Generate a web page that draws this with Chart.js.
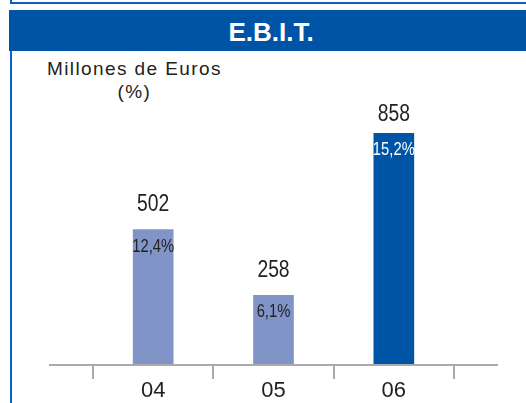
<!DOCTYPE html>
<html>
<head>
<meta charset="utf-8">
<script src="https://cdn.jsdelivr.net/npm/chart.js@4"></script>
<style>
  html, body { margin:0; padding:0; background:#fff; }
  body { width:526px; height:403px; position:relative; overflow:hidden; font-family:"Liberation Sans", Arial, sans-serif; }
  #topbox { position:absolute; left:10px; top:-10px; width:520px; height:10px; border:2px solid #0a5fc0; }
  #band { position:absolute; left:9px; top:10px; width:517px; height:41px; background:#0054a5; color:#fff;
          font-weight:bold; font-size:26px; line-height:41px; text-align:center; box-sizing:border-box; padding-left:7px; padding-top:2px; }
  #leftline { position:absolute; left:10px; top:51px; width:2px; height:352px; background:#0a63cc; }
  #unit { position:absolute; left:47px; top:57px; font-size:19px; line-height:23px; color:#222; text-align:center; letter-spacing:1.4px; }
  #wrap { position:absolute; left:0; top:0; width:526px; height:403px; }
</style>
</head>
<body>
<div id="topbox"></div>
<div id="band">E.B.I.T.</div>
<div id="leftline"></div>
<div id="unit">Millones de Euros<br>(%)</div>
<div id="wrap"><canvas id="c"></canvas></div>
<script>
const categories = ['04', '05', '06'];
const ebit = [502, 258, 858];
const marginPct = [12.4, 6.1, 15.2];
const barColors = ['#8194c8', '#8194c8', '#0054a5'];
const pctColors = ['#222222', '#222222', '#ffffff'];

const FONT = '"Liberation Sans", Arial, sans-serif';

function condensedText(ctx, text, x, y, size, squeeze) {
  ctx.save();
  ctx.font = size + 'px ' + FONT;
  ctx.translate(x, y);
  ctx.scale(squeeze, 1);
  ctx.fillText(text, 0, 0);
  ctx.restore();
}

const labelPlugin = {
  id: 'labels',
  afterDatasetsDraw(chart) {
    const ctx = chart.ctx;
    const a = chart.chartArea;
    const meta = chart.getDatasetMeta(0);
    ctx.save();
    ctx.textAlign = 'center';
    ctx.textBaseline = 'middle';
    meta.data.forEach((bar, i) => {
      ctx.fillStyle = '#222222';
      condensedText(ctx, String(ebit[i]), bar.x, Math.max(bar.y - 25, a.top + 20), 23, 0.84);
      ctx.fillStyle = pctColors[i];
      condensedText(ctx, marginPct[i].toFixed(1).replace('.', ',') + '%', bar.x, bar.y + 17, 18.5, 0.8);
    });
    ctx.restore();
  },
  afterDraw(chart) {
    const ctx = chart.ctx;
    const a = chart.chartArea;
    ctx.save();
    ctx.strokeStyle = '#aaaaaa';
    ctx.lineWidth = 2;
    ctx.beginPath();
    ctx.moveTo(a.left - 44, a.bottom);
    ctx.lineTo(a.right + 44, a.bottom);
    ctx.stroke();
    ctx.restore();
  }
};

new Chart(document.getElementById('c'), {
  type: 'bar',
  data: {
    labels: categories,
    datasets: [{
      data: ebit,
      backgroundColor: barColors,
      borderWidth: 0,
      barThickness: 40
    }]
  },
  options: {
    responsive: true,
    maintainAspectRatio: false,
    animation: false,
    events: [],
    layout: { padding: { left: 93, right: 72, top: 95, bottom: 0 } },
    plugins: { legend: { display: false }, tooltip: { enabled: false }, title: { display: false } },
    scales: {
      x: {
        offset: true,
        grid: { offset: true, drawOnChartArea: false, drawTicks: true, tickLength: 14, color: '#aaaaaa', lineWidth: 2 },
        border: { display: false },
        ticks: { color: '#222222', padding: 1, font: { family: FONT, size: 22, lineHeight: 1 } }
      },
      y: {
        display: false,
        min: 0,
        max: 1000
      }
    }
  },
  plugins: [labelPlugin]
});
</script>
</body>
</html>
